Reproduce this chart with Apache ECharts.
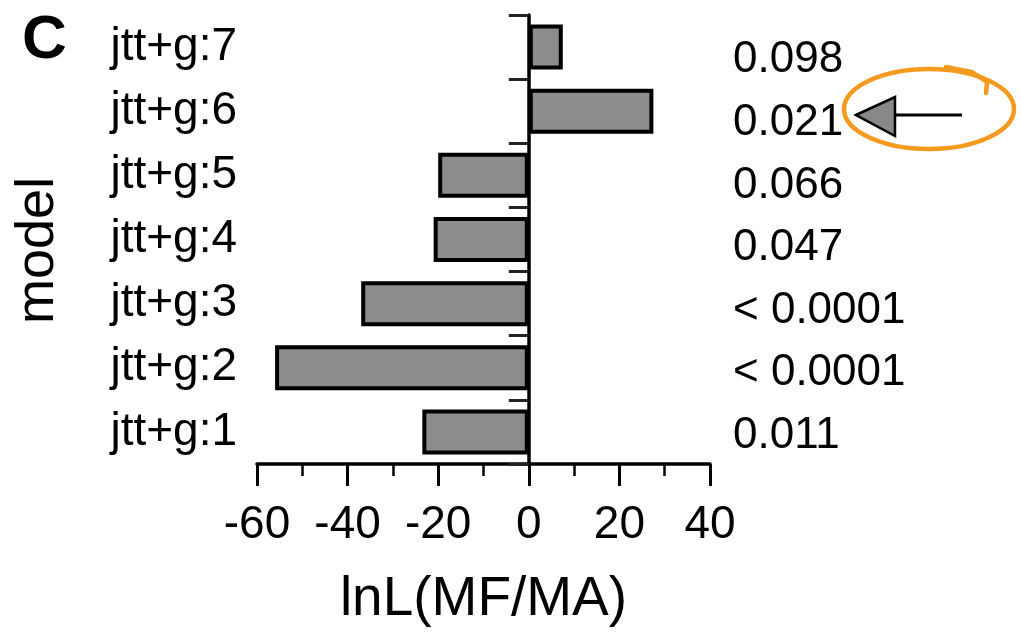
<!DOCTYPE html>
<html>
<head>
<meta charset="utf-8">
<script src="https://cdn.jsdelivr.net/npm/echarts@6/dist/echarts.min.js"></script>
<style>
  html, body { margin: 0; padding: 0; background: #fff; }
  #chart { width: 1021px; height: 632px; }
</style>
</head>
<body>
<div id="chart"></div>
<script>
// Data (bottom to top, as the category axis draws them)
const models = ['jtt+g:1', 'jtt+g:2', 'jtt+g:3', 'jtt+g:4', 'jtt+g:5', 'jtt+g:6', 'jtt+g:7'];
const lnL = [-23.5, -56, -37, -21, -20, 27.5, 7.5];
const pValues = ['0.011', '< 0.0001', '< 0.0001', '0.047', '0.066', '0.021', '0.098'];
const xTicks = { min: -60, max: 40, interval: 20 };

const FONT = '"Liberation Sans", Arial, Helvetica, sans-serif';

const chart = echarts.init(document.getElementById('chart'), null, { renderer: 'canvas' });

chart.setOption({
  backgroundColor: '#ffffff',
  animation: false,
  textStyle: { fontFamily: FONT, color: '#000' },
  grid: [
    { left: 257, right: 311, top: 15, bottom: 165 },
    { left: 257, right: 308, top: 29, bottom: 165 }
  ],
  xAxis: [
    {
      gridIndex: 0,
      type: 'value',
      min: xTicks.min, max: xTicks.max, interval: xTicks.interval,
      axisLine: { show: true, onZero: false, lineStyle: { color: '#000', width: 3.5 } },
      axisTick: { show: true, length: 22, lineStyle: { color: '#000', width: 3 } },
      minorTick: { show: true, splitNumber: 2, length: 12, lineStyle: { color: '#000', width: 2.5 } },
      splitLine: { show: false },
      minorSplitLine: { show: false },
      axisLabel: { fontSize: 46, margin: 38, color: '#000', fontFamily: FONT },
      name: 'lnL(MF/MA)',
      nameLocation: 'middle',
      nameGap: 108,
      nameTextStyle: { fontSize: 55, color: '#000', fontFamily: FONT }
    },
    {
      gridIndex: 1,
      type: 'value',
      min: xTicks.min, max: xTicks.max,
      show: false
    }
  ],
  yAxis: [
    {
      gridIndex: 0,
      type: 'category',
      position: 'left',
      data: models,
      axisLine: { show: true, onZero: true, lineStyle: { color: '#000', width: 3.5 } },
      axisTick: { show: true, length: 20, lineStyle: { color: '#222', width: 3 } },
      axisLabel: { show: false },
      splitLine: { show: false }
    },
    {
      gridIndex: 0,
      type: 'category',
      position: 'left',
      data: models,
      axisLine: { show: false },
      axisTick: { show: false },
      axisLabel: { fontSize: 46, margin: 20, color: '#000', fontFamily: FONT },
      splitLine: { show: false },
      name: 'model',
      nameLocation: 'middle',
      nameRotate: 90,
      nameGap: 192,
      nameTextStyle: { fontSize: 54, color: '#000', fontFamily: FONT, padding: [0, 22, 0, 0] }
    },
    {
      gridIndex: 1,
      type: 'category',
      position: 'right',
      data: pValues,
      axisLine: { show: false },
      axisTick: { show: false },
      axisLabel: { fontSize: 44, margin: 20, color: '#000', align: 'left', fontFamily: FONT },
      splitLine: { show: false }
    }
  ],
  series: [
    {
      type: 'bar',
      xAxisIndex: 0,
      yAxisIndex: 0,
      data: lnL,
      barWidth: 45,
      itemStyle: { color: '#8c8c8c', borderColor: '#000', borderWidth: 4 }
    }
  ],
  graphic: [
    {
      type: 'text',
      left: 22, top: 10,
      style: { text: 'C', fontSize: 62, fontWeight: 'bold', fontFamily: FONT, fill: '#000' }
    },
    {
      type: 'ellipse',
      shape: { cx: 929, cy: 109, rx: 85, ry: 40 },
      style: { fill: 'none', stroke: '#F39A1F', lineWidth: 4.5 }
    },
    {
      type: 'polyline',
      shape: { points: [[946, 67], [972, 72], [987, 82], [986, 93]] },
      style: { fill: 'none', stroke: '#F39A1F', lineWidth: 4.5, lineCap: 'round' }
    },
    {
      type: 'line',
      shape: { x1: 893, y1: 115, x2: 962, y2: 115 },
      style: { stroke: '#000', lineWidth: 3 }
    },
    {
      type: 'polygon',
      shape: { points: [[856, 115], [895, 97], [895, 136]] },
      style: { fill: '#888', stroke: '#000', lineWidth: 2.5, lineJoin: 'miter' }
    }
  ]
});
</script>
</body>
</html>
